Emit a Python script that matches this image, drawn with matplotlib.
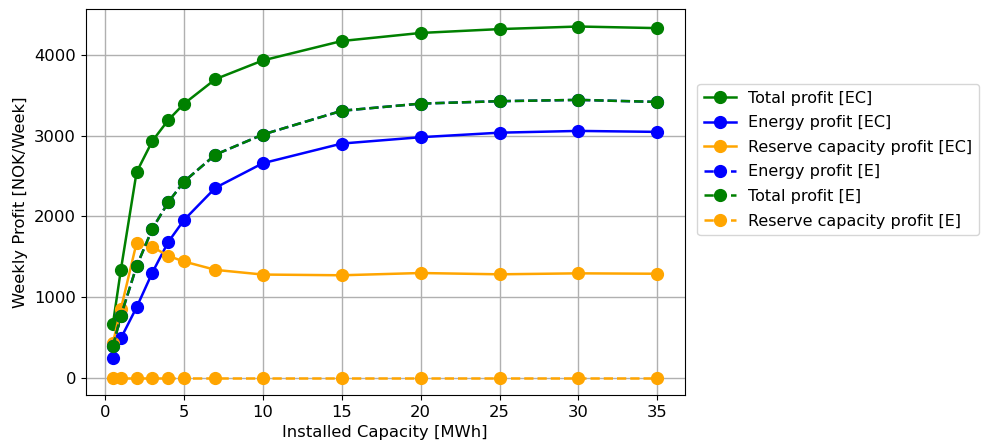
import matplotlib
matplotlib.use("Agg")
import matplotlib.pyplot as plt

# installed capacity [MWh]
capacity = [0.5, 1, 2, 3, 4, 5, 7, 10, 15, 20, 25, 30, 35]

# EC case
total_ec = [665, 1333, 2550, 2937, 3195, 3398, 3705, 3937, 4178, 4278, 4326, 4358, 4338]
energy_ec = [249, 486, 872, 1304, 1681, 1955, 2357, 2661, 2905, 2984, 3040, 3062, 3050]
reserve_ec = [432, 847, 1673, 1623, 1511, 1441, 1337, 1279, 1270, 1298, 1282, 1294, 1289]

# E case (no reserve -> total = energy)
energy_e = [386, 764, 1382, 1847, 2175, 2432, 2768, 3017, 3312, 3401, 3431, 3447, 3422]
total_e = [386, 764, 1382, 1847, 2175, 2432, 2768, 3017, 3312, 3401, 3431, 3447, 3422]
reserve_e = [0, 0, 0, 0, 0, 0, 0, 0, 0, 0, 0, 0, 0]

fs = 11.8
fig = plt.figure(figsize=(9.85, 4.48), dpi=100)
ax = fig.add_axes([0.087, 0.118, 0.608, 0.862])

ms = 8.5
lw = 1.8
ax.plot(capacity, total_ec, "-o", color="green", ms=ms, lw=lw, label="Total profit [EC]")
ax.plot(capacity, energy_ec, "-o", color="blue", ms=ms, lw=lw, label="Energy profit [EC]")
ax.plot(capacity, reserve_ec, "-o", color="orange", ms=ms, lw=lw, label="Reserve capacity profit [EC]")
ax.plot(capacity, energy_e, "--o", color="blue", ms=ms, lw=lw, label="Energy profit [E]")
ax.plot(capacity, total_e, "--o", color="green", ms=ms, lw=lw, label="Total profit [E]")
ax.plot(capacity, reserve_e, "--o", color="orange", ms=ms, lw=lw, label="Reserve capacity profit [E]")

ax.grid(True, color="#b0b0b0", lw=1)
ax.set_axisbelow(True)
ax.set_xticks([0, 5, 10, 15, 20, 25, 30, 35])
ax.set_yticks([0, 1000, 2000, 3000, 4000])
ax.tick_params(labelsize=fs)
ax.set_xlabel("Installed Capacity [MWh]", fontsize=fs)
ax.set_ylabel("Weekly Profit [NOK/Week]", fontsize=fs)

ax.legend(loc="center left", bbox_to_anchor=(1.008, 0.61), fontsize=11.5,
          labelspacing=0.6)

fig.savefig("out.png", dpi=100)
